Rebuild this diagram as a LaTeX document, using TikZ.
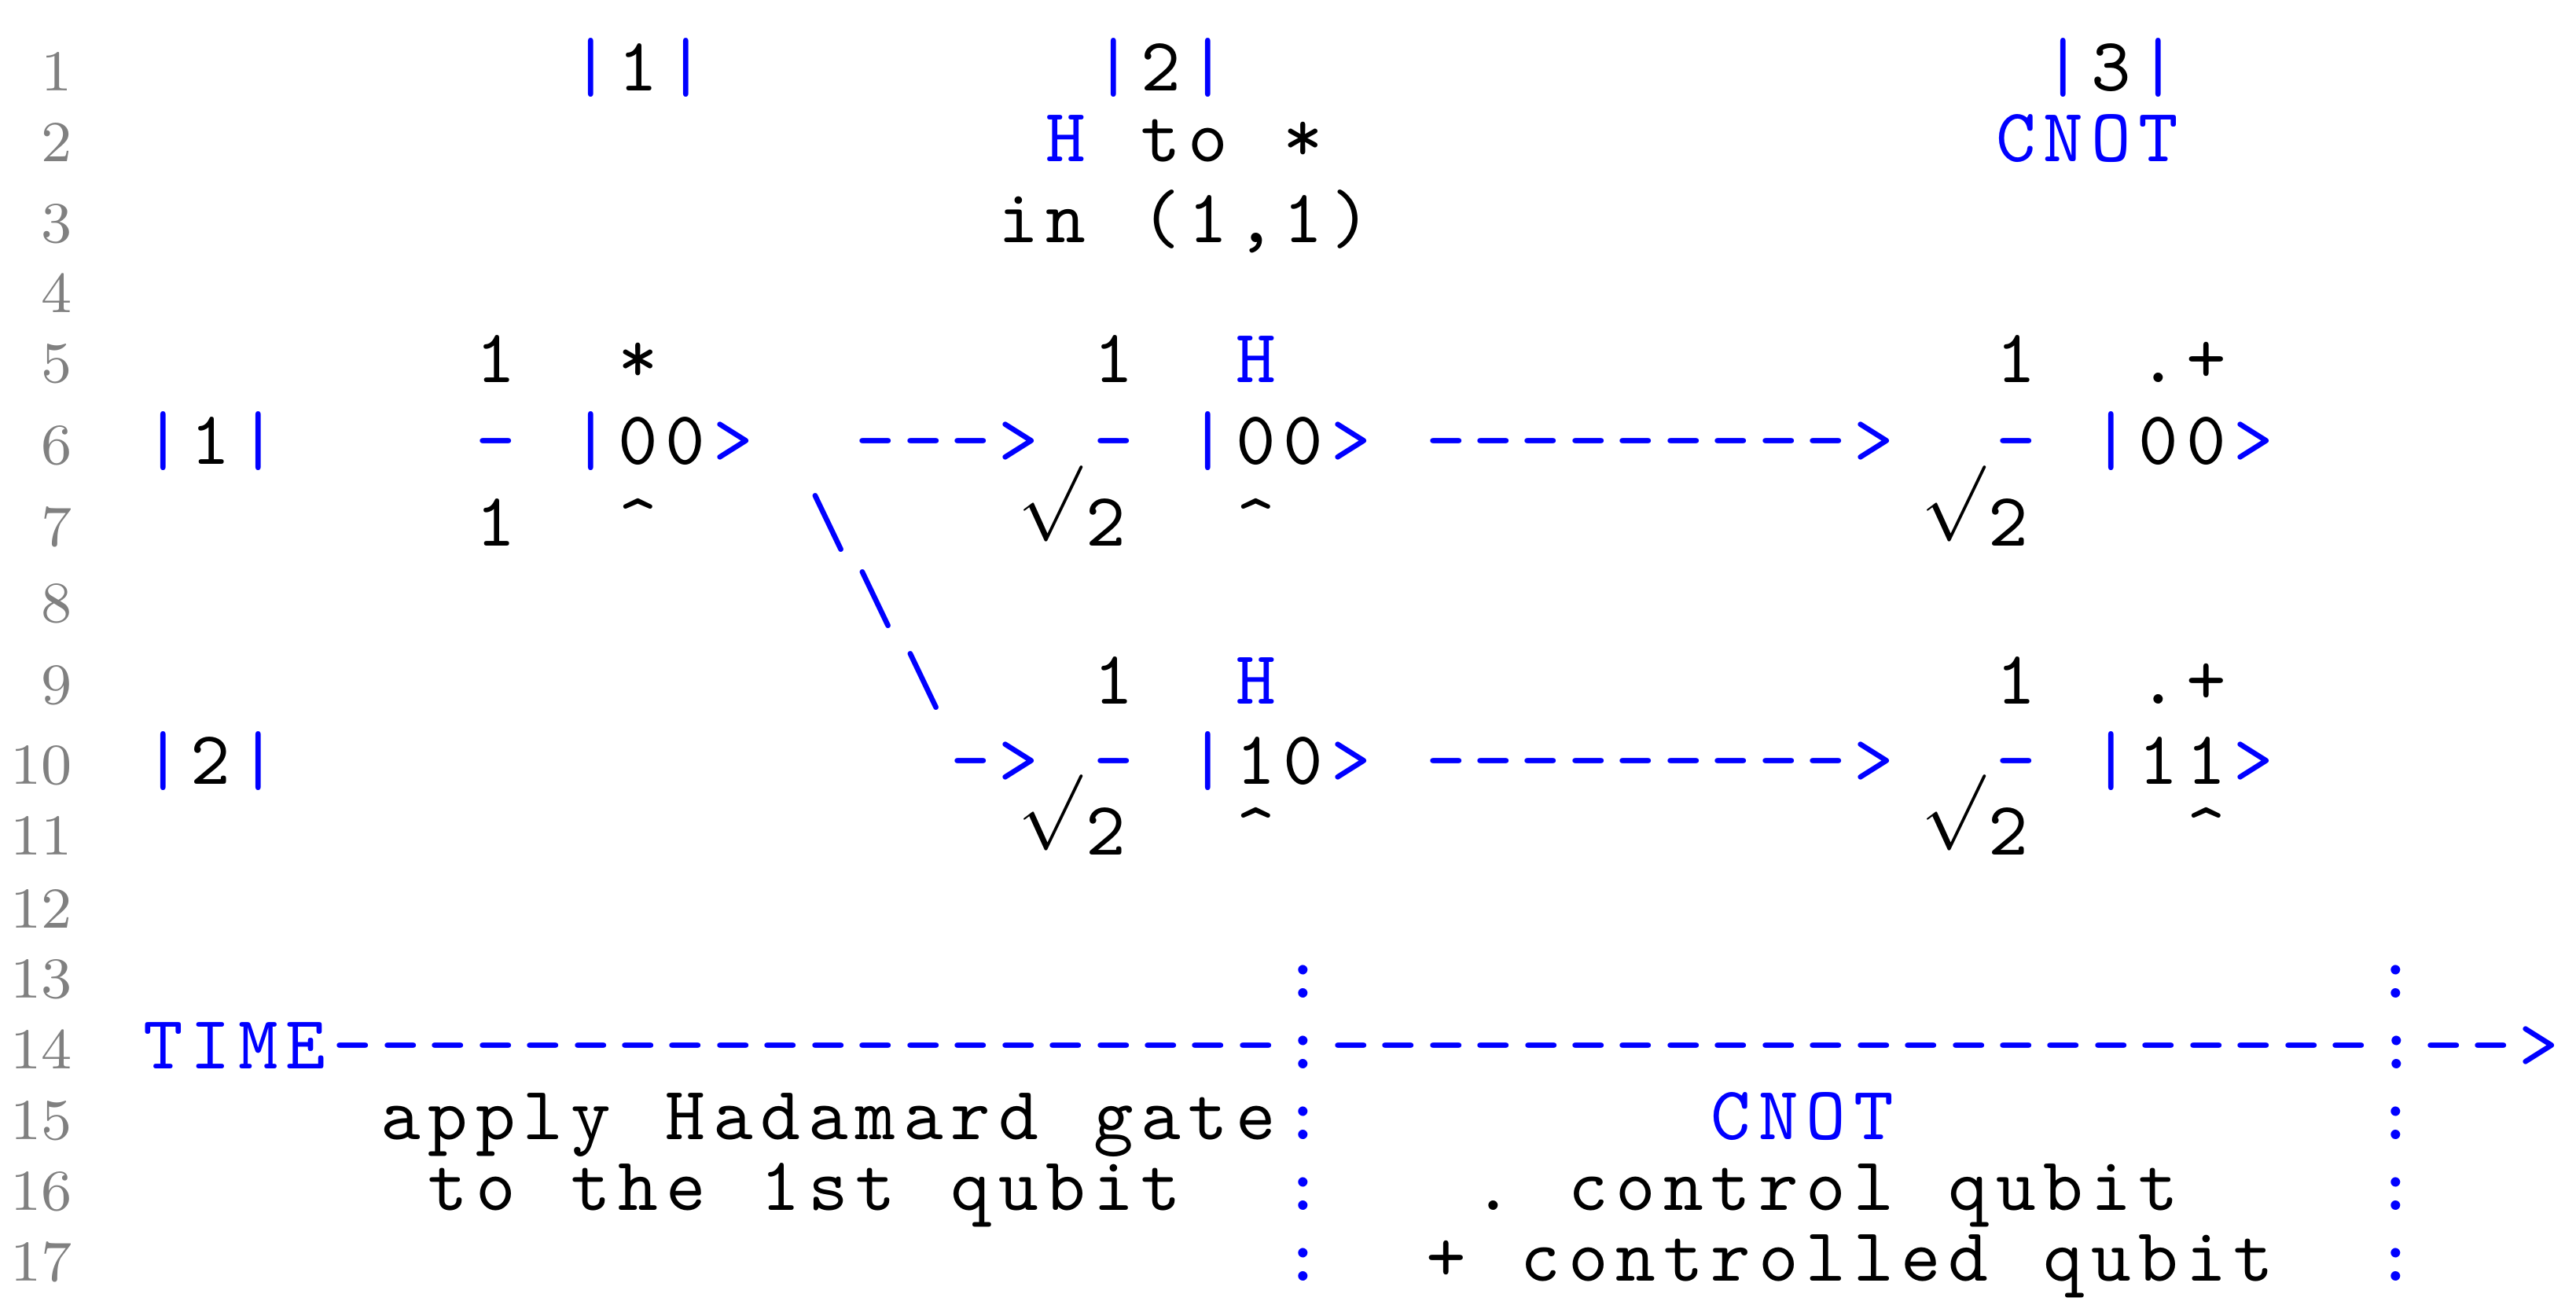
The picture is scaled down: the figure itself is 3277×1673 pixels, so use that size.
\documentclass[tikz,border=0pt]{standalone}
\usepackage{xcolor}
\newlength\colw
\setlength\colw{6.268pt}
\ExplSyntaxOn
\NewDocumentCommand\mono{m}{\str_map_inline:nn{#1}{\makebox[\colw][c]{##1}}}
\ExplSyntaxOff
\tikzset{
  cell/.style={anchor=base west, inner sep=0pt, outer sep=0pt, font=\ttfamily\fontsize{10}{12}\selectfont},
  bl/.style={text=blue},
  bk/.style={text=black},
  lnum/.style={anchor=base east, inner sep=0pt, outer sep=0pt, text=gray, font=\rmfamily\fontsize{7.64}{9}\selectfont},
  rad/.style={anchor=base east, inner sep=0pt, outer sep=0pt, text=black, font=\fontsize{10}{12}\selectfont},
}
% segment starting at a column
\newcommand\seg[5]{\node[cell,#4] (#1) at ({177.28+60.44*#2},#3) {\mono{#5}};}
% backslash in one column
\newcommand\bsl[3]{\node[cell,bl] (#1) at ({177.28+60.44*#2},#3) {\makebox[\colw][c]{\textbackslash}};}
% square root of two, the 2 placed near column #2
\newcommand\sqrttwo[3]{%
  \node[rad] (#1r) at ({207.5+60.44*#2-40},#3) {\raisebox{3pt}{$\surd$}};
  \node[cell,bk] (#1t) at ({177.28+60.44*#2-10},#3) {\mono{2}};}
\begin{document}
\begin{tikzpicture}[x=0.1037pt,y=-0.1037pt]
\useasboundingbox (0,0) rectangle (3277,1673);
% line numbers
\node[lnum] (n1) at (91.5,115.4) {1};
\node[lnum] (n2) at (91.5,206) {2};
\node[lnum] (n3) at (91.5,308) {3};
\node[lnum] (n4) at (91.5,397.5) {4};
\node[lnum] (n5) at (91.5,486.5) {5};
\node[lnum] (n6) at (91.5,590.5) {6};
\node[lnum] (n7) at (91.5,694) {7};
\node[lnum] (n8) at (91.5,791) {8};
\node[lnum] (n9) at (91.5,895) {9};
\node[lnum] (n10) at (91.5,997.5) {10};
\node[lnum] (n11) at (91.5,1087) {11};
\node[lnum] (n12) at (91.5,1180) {12};
\node[lnum] (n13) at (91.5,1269.5) {13};
\node[lnum] (n14) at (91.5,1359.5) {14};
\node[lnum] (n15) at (91.5,1449.5) {15};
\node[lnum] (n16) at (91.5,1539.5) {16};
\node[lnum] (n17) at (91.5,1629) {17};
% line 1
\seg{a1}{9}{115.4}{bl}{|}
\seg{a2}{10}{115.4}{bk}{1}
\seg{a3}{11}{115.4}{bl}{|}
\seg{a4}{20}{115.4}{bl}{|}
\seg{a5}{21}{115.4}{bk}{2}
\seg{a6}{22}{115.4}{bl}{|}
\seg{a7}{40}{115.4}{bl}{|}
\seg{a8}{41}{115.4}{bk}{3}
\seg{a9}{42}{115.4}{bl}{|}
% line 2
\seg{b1}{19}{206}{bl}{H}
\seg{b2}{21}{206}{bk}{to *}
\seg{b3}{39}{206}{bl}{CNOT}
% line 3
\seg{c1}{18}{308}{bk}{in (1,1)}
% line 5
\seg{e1}{7}{486.5}{bk}{1}
\seg{e2}{10}{486.5}{bk}{*}
\seg{e3}{20}{486.5}{bk}{1}
\seg{e4}{23}{486.5}{bl}{H}
\seg{e5}{39}{486.5}{bk}{1}
\seg{e6}{42}{486.5}{bk}{.+}
% line 6
\seg{f1}{0}{590.5}{bl}{|}
\seg{f2}{1}{590.5}{bk}{1}
\seg{f3}{2}{590.5}{bl}{|}
\seg{f4}{7}{590.5}{bl}{-}
\seg{f5}{9}{590.5}{bl}{|}
\seg{f6}{10}{590.5}{bk}{00}
\seg{f7}{12}{590.5}{bl}{>}
\seg{f8}{15}{590.5}{bl}{--->}
\seg{f9}{20}{590.5}{bl}{-}
\seg{f10}{22}{590.5}{bl}{|}
\seg{f11}{23}{590.5}{bk}{00}
\seg{f12}{25}{590.5}{bl}{>}
\seg{f13}{27}{590.5}{bl}{--------->}
\seg{f14}{39}{590.5}{bl}{-}
\seg{f15}{41}{590.5}{bl}{|}
\seg{f16}{42}{590.5}{bk}{00}
\seg{f17}{44}{590.5}{bl}{>}
% line 7
\seg{g1}{7}{694}{bk}{1}
\seg{g2}{10}{694}{bk}{^}
\bsl{g3}{14}{694}
\sqrttwo{g4}{20}{694}
\seg{g5}{23}{694}{bk}{^}
\sqrttwo{g6}{39}{694}
% line 8
\bsl{h1}{15}{791}
% line 9
\bsl{i1}{16}{895}
\seg{i2}{20}{895}{bk}{1}
\seg{i3}{23}{895}{bl}{H}
\seg{i4}{39}{895}{bk}{1}
\seg{i5}{42}{895}{bk}{.+}
% line 10
\seg{j1}{0}{997.5}{bl}{|}
\seg{j2}{1}{997.5}{bk}{2}
\seg{j3}{2}{997.5}{bl}{|}
\seg{j4}{17}{997.5}{bl}{->}
\seg{j5}{20}{997.5}{bl}{-}
\seg{j6}{22}{997.5}{bl}{|}
\seg{j7}{23}{997.5}{bk}{10}
\seg{j8}{25}{997.5}{bl}{>}
\seg{j9}{27}{997.5}{bl}{--------->}
\seg{j10}{39}{997.5}{bl}{-}
\seg{j11}{41}{997.5}{bl}{|}
\seg{j12}{42}{997.5}{bk}{11}
\seg{j13}{44}{997.5}{bl}{>}
% line 11
\sqrttwo{k1}{20}{1087}
\seg{k2}{23}{1087}{bk}{^}
\sqrttwo{k3}{39}{1087}
\seg{k4}{43}{1087}{bk}{^}
% line 13
\seg{m1}{24}{1269.5}{bl}{:}
\seg{m2}{47}{1269.5}{bl}{:}
% line 14
\seg{o1}{0}{1359.5}{bl}{TIME--------------------:----------------------:-->}
% line 15
\seg{p1}{5}{1449.5}{bk}{apply Hadamard gate}
\seg{p2}{24}{1449.5}{bl}{:}
\seg{p3}{33}{1449.5}{bl}{CNOT}
\seg{p4}{47}{1449.5}{bl}{:}
% line 16
\seg{q1}{6}{1539.5}{bk}{to the 1st qubit}
\seg{q2}{24}{1539.5}{bl}{:}
\seg{q3}{28}{1539.5}{bk}{. control qubit}
\seg{q4}{47}{1539.5}{bl}{:}
% line 17
\seg{s1}{24}{1629}{bl}{:}
\seg{s2}{27}{1629}{bk}{+ controlled qubit}
\seg{s3}{47}{1629}{bl}{:}
\end{tikzpicture}
\end{document}
